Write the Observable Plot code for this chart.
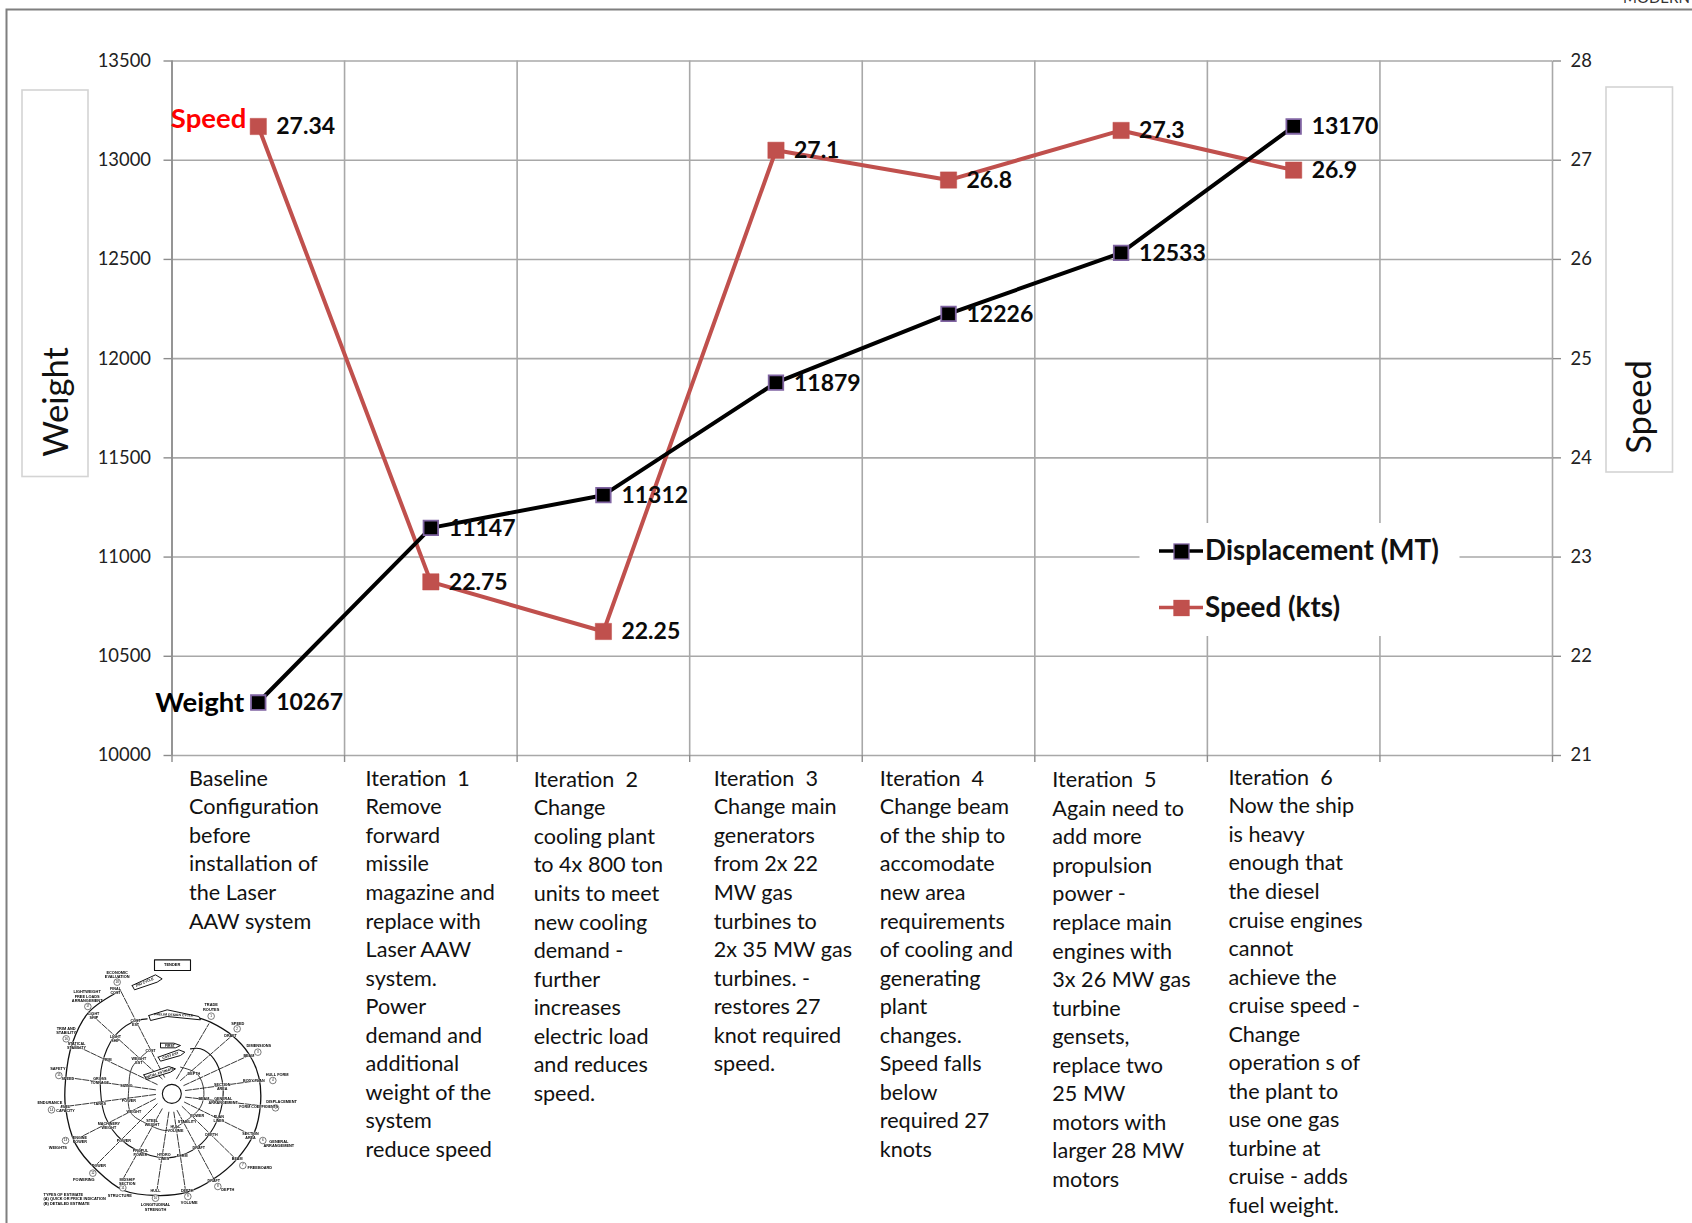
<!DOCTYPE html>
<html>
<head>
<meta charset="utf-8">
<script src="https://cdn.jsdelivr.net/npm/d3@7"></script>
<script src="https://cdn.jsdelivr.net/npm/@observablehq/plot@0.6"></script>
<style>
  html, body { margin: 0; padding: 0; background: #fff; overflow: hidden; }
  #page { position: relative; width: 1692px; height: 1223px; overflow: hidden; }
  #page svg { display: block; }
  #spiral { position: absolute; left: 0; top: 930px; filter: blur(0.55px); }
</style>
</head>
<body>
<div id="page"><div id="chart"></div><div id="spiral"></div></div>
<script>
// Design iterations: ship displacement and speed after each change
const displacement = [10267, 11147, 11312, 11879, 12226, 12533, 13170];
const speed = [27.34, 22.75, 22.25, 27.1, 26.8, 27.3, 26.9];
const weightTicks = [10000, 10500, 11000, 11500, 12000, 12500, 13000, 13500];
const bandEdges = [0, 1, 2, 3, 4, 5, 6, 7, 8];
const descriptions = [
  ["Baseline", "Configuration", "before", "installation of", "the Laser", "AAW system"],
  ["Iteration  1", "Remove", "forward", "missile", "magazine and", "replace with", "Laser AAW", "system.", "Power", "demand and", "additional", "weight of the", "system", "reduce speed"],
  ["Iteration  2", "Change", "cooling plant", "to 4x 800 ton", "units to meet", "new cooling", "demand -", "further", "increases", "electric load", "and reduces", "speed."],
  ["Iteration  3", "Change main", "generators", "from 2x 22", "MW gas", "turbines to", "2x 35 MW gas", "turbines. -", "restores 27", "knot required", "speed."],
  ["Iteration  4", "Change beam", "of the ship to", "accomodate", "new area", "requirements", "of cooling and", "generating", "plant", "changes.", "Speed falls", "below", "required 27", "knots"],
  ["Iteration  5", "Again need to", "add more", "propulsion", "power -", "replace main", "engines with", "3x 26 MW gas", "turbine", "gensets,", "replace two", "25 MW", "motors with", "larger 28 MW", "motors"],
  ["Iteration  6", "Now the ship", "is heavy", "enough that", "the diesel", "cruise engines", "cannot", "achieve the", "cruise speed -", "Change", "operation s of", "the plant to", "use one gas", "turbine at", "cruise - adds", "fuel weight."]
];

// Text placement of the description blocks, relative to each band edge and the frame bottom
const blockDx = [17, 21, 16.5, 24, 17.5, 17.5, 21];
const blockDy = [10, 10, 11, 10, 10, 11.5, 9];

const FONT = "Lato, 'Noto Sans', sans-serif";
const GRID = "#a8a8a8";
const RED = "#c0504d";
const PURPLE = "#8064a2";

// Speed shares the frame with displacement: 21–28 kts spans 10000–13500 MT
const speedToWeight = (s) => 10000 + (s - 21) * 500;
const weightToSpeed = (w) => (w - 10000) / 500 + 21;
const band = (i) => i + 0.5;

const weightRows = displacement.map((value, i) => ({x: band(i), value}));
const speedRows = speed.map((value, i) => ({x: band(i), value, y: speedToWeight(value)}));

// The design-spiral illustration in the lower left corner, drawn as its own small plot
const spiralOuter = [[360,180],[265,245],[215,340],[195,450],[195,530],[225,640],[290,720],[370,780],[470,795],[560,785],[640,745],[710,685],[760,610],[780,520],[775,440],[745,370],[695,315],[630,275],[595,262]];
const spiralMiddle = [[440,265],[395,275],[340,320],[305,400],[300,480],[315,560],[365,630],[450,675],[520,680],[590,650],[640,590],[665,520],[665,450],[640,385],[600,355],[570,355]];
const spiralInner = [[445,360],[395,410],[385,470],[390,545],[440,580],[500,600],[550,575],[600,530],[610,480],[590,430],[540,410]];
const spokes = [
  [[555,480],[775,450]], [[550,465],[745,375]], [[540,450],[695,315]], [[528,445],[625,280]],
  [[555,500],[820,530]], [[552,515],[745,610]], [[545,528],[700,680]], [[530,540],[640,745]],
  [[520,545],[555,780]], [[505,545],[470,775]], [[485,535],[365,750]], [[470,520],[285,705]],
  [[465,505],[230,625]], [[465,492],[180,530]], [[465,478],[195,440]], [[470,462],[215,340]],
  [[485,445],[265,245]], [[492,440],[360,180]]
];
const ringLabels = [
  {n:"1",x:632,y:257,t:"TRADE\nROUTES",tx:632,ty:230},{n:"2",x:710,y:295,t:"SPEED",tx:712,ty:278},
  {n:"3",x:772,y:365,t:"DIMENSIONS",tx:775,ty:345},{n:"4",x:817,y:450,t:"HULL FORM",tx:830,ty:432},
  {n:"5",x:825,y:532,t:"DISPLACEMENT",tx:843,ty:513},{n:"6",x:787,y:630,t:"GENERAL\nARRANGEMENT",tx:835,ty:640},
  {n:"7",x:727,y:705,t:"FREEBOARD",tx:778,ty:710},{n:"8",x:652,y:768,t:"DEPTH",tx:682,ty:778},
  {n:"9",x:562,y:798,t:"VOLUME",tx:566,ty:817},{n:"10",x:465,y:803,t:"LONGITUDINAL\nSTRENGTH",tx:465,ty:830},
  {n:"11",x:367,y:772,t:"STRUCTURE",tx:358,ty:795},{n:"12",x:277,y:728,t:"POWERING",tx:250,ty:747},
  {n:"13",x:195,y:630,t:"WEIGHTS",tx:172,ty:652},{n:"14",x:153,y:538,t:"ENDURANCE",tx:148,ty:515},
  {n:"15",x:175,y:435,t:"SAFETY",tx:172,ty:415},{n:"16",x:197,y:325,t:"TRIM AND\nSTABILITY",tx:197,ty:300},
  {n:"17",x:262,y:228,t:"LIGHTWEIGHT\nFREE LOADS\nARRANGEMENT",tx:260,ty:197},{n:"18",x:350,y:155,t:"ECONOMIC\nEVALUATION",tx:350,ty:133}
];
const nodeLabels = [
  [345,182,"FINAL\nCOST"],[280,255,"LIGHT\nSHIP"],[228,345,"STATICAL\nSTABILITY"],[202,445,"SPEED"],[195,535,"FUEL\nCAPACITY"],
  [238,628,"ENGINE\nPOWER"],[295,705,"POWER"],[380,755,"MIDSHIP\nSECTION"],[465,780,"HULL"],[560,780,"DEPTH"],
  [640,750,"DRAFT"],[710,685,"BEAM"],[750,615,"SECTION\nAREA"],[775,530,"FORM COEFFICIENTS"],[760,452,"BODY PLAN"],[745,375,"BEAM"],[690,315,"DRAFT"],
  [405,278,"COST\nEST"],[345,325,"LIGHT\nSHIP"],[320,388,"TRIM"],[298,450,"GROSS\nTONNAGE"],[298,520,"TANKS"],[325,585,"MACHINERY\nWEIGHT"],[370,630,"POWER"],[420,668,"PROPUL\nPOWER"],
  [490,680,"HYDRO\nLINES"],[545,675,"FORM"],[595,652,"DRAFT"],[633,612,"DEPTH"],[655,565,"PLAN\nLINES"],[668,510,"GENERAL\nARRANGEMENT"],[665,468,"SECTION\nAREA"],
  [450,360,"COST"],[415,390,"WEIGHT\nEST"],[378,465,"SIZING"],[385,510,"POWER"],[400,545,"WEIGHT"],[455,578,"STEEL\nWEIGHT"],[525,595,"HULL\nVOLUME"],[560,575,"STABILITY"],[590,555,"POWER"],[610,505,"BEAM"],[580,430,"DEPTH"]
];
const banners = [
  {poly:[[395,165],[465,133],[485,145],[470,155],[402,178]],label:"2ND CYCLE",x:432,y:155,r:-22},
  {poly:[[445,255],[500,238],[595,258],[600,268],[500,258],[450,270]],label:"PRELIM DESIGN CYCLE",x:520,y:253,r:2},
  {poly:[[480,338],[520,338],[540,345],[525,352],[480,352]],label:"FIRST",x:508,y:345,r:0},
  {poly:[[473,380],[535,358],[553,365],[540,375],[480,392]],label:"COST EST",x:510,y:375,r:-18},
  {poly:[[430,433],[505,408],[525,415],[510,425],[438,447]],label:"INITIAL ESTIMATE",x:478,y:427,r:-18}
];

const spiralPlot = Plot.plot({
  width: 340, height: 293, margin: 0,
  x: {domain: [0, 1020], axis: null},
  y: {domain: [879, 0], axis: null},
  style: {background: "none", fontFamily: "'Liberation Sans', sans-serif"},
  marks: [
    Plot.line(spiralOuter, {x: "0", y: "1", curve: "catmull-rom", stroke: "#111", strokeWidth: 1.3}),
    Plot.line(spiralMiddle, {x: "0", y: "1", curve: "catmull-rom", stroke: "#111", strokeWidth: 1.1}),
    Plot.line(spiralInner, {x: "0", y: "1", curve: "catmull-rom", stroke: "#222", strokeWidth: 0.9}),
    spokes.map((s) => Plot.line(s, {x: "0", y: "1", stroke: "#222", strokeWidth: 0.9, strokeDasharray: "6 1.5"})),
    Plot.dot([[514,490]], {x: "0", y: "1", r: 9.5, stroke: "#111", strokeWidth: 1.1, fill: "white"}),
    banners.map((b) => Plot.line([...b.poly, b.poly[0]], {x: "0", y: "1", stroke: "#111", strokeWidth: 1, fill: "white"})),
    banners.map((b) => Plot.text([b], {x: "x", y: "y", text: "label", rotate: b.r, fontSize: 3.4, fontWeight: 700, fill: "#000"})),
    Plot.line([[462,88],[570,88],[570,120],[462,120],[462,88]], {x: "0", y: "1", stroke: "#111", strokeWidth: 1.1}),
    Plot.text([[515,103]], {x: "0", y: "1", text: () => "TENDER", fontSize: 4, fontWeight: 700, fill: "#000"}),
    Plot.dot(ringLabels, {x: "x", y: "y", r: 3.3, stroke: "#444", strokeWidth: 0.7, fill: "white"}),
    Plot.text(ringLabels, {x: "x", y: "y", text: "n", fontSize: 3, fill: "#000"}),
    Plot.text(ringLabels, {x: "tx", y: "ty", text: "t", fontSize: 3.9, fontWeight: 700, lineHeight: 1.1, fill: "#000"}),
    Plot.text(nodeLabels, {x: "0", y: "1", text: "2", fontSize: 3.7, fontWeight: 800, lineHeight: 1.05, fill: "#000", stroke: "white", strokeWidth: 0.5}),
    Plot.text(["TYPES OF ESTIMATE\n(A) QUICK OR PRICE INDICATION\n(B) DETAILED ESTIMATE"], {frameAnchor: "top-left", dx: 43, dy: 262, text: (d) => d, textAnchor: "start", fontSize: 3.9, fontWeight: 700, lineHeight: 1.15, fill: "#000"})
  ]
});

// Page frame, the two axis-title panels and the clipped page header
function backdrop() {
  const g = d3.create("svg:g").attr("font-family", FONT);
  g.append("path").attr("d", "M6.5 1223V9.5H1692").attr("fill", "none").attr("stroke", "#7f7f7f").attr("stroke-width", 2);
  g.append("text").attr("x", 1623).attr("y", 3).attr("text-anchor", "start").attr("font-size", 15).attr("fill", "#333").text("MODERN");
  const panel = (x, y, w, h, label, cx, cy) => {
    g.append("rect").attr("x", x).attr("y", y).attr("width", w).attr("height", h)
      .attr("fill", "white").attr("stroke", "#d4d4d4").attr("stroke-width", 1.6);
    g.append("text").attr("transform", `translate(${cx},${cy}) rotate(-90)`).attr("text-anchor", "middle")
      .attr("dominant-baseline", "middle").attr("font-size", 34.5).attr("fill", "#111").text(label);
  };
  panel(22, 90, 66, 386.5, "Weight", 59, 402);
  panel(1606, 87, 66.5, 385, "Speed", 1642, 407);
  return g.node();
}

// Series key on a white patch that interrupts the grid
function seriesKey() {
  const g = d3.create("svg:g").attr("font-family", FONT);
  g.append("rect").attr("x", 1139.5).attr("y", 523).attr("width", 320).attr("height", 113).attr("fill", "white");
  const entry = (y, color, border, label) => {
    g.append("line").attr("x1", 1159).attr("x2", 1203).attr("y1", y).attr("y2", y).attr("stroke", color).attr("stroke-width", 3.4);
    g.append("rect").attr("x", 1174).attr("y", y - 7).attr("width", 15).attr("height", 15).attr("fill", color).attr("stroke", border).attr("stroke-width", 1.3);
    g.append("text").attr("x", 1205).attr("y", y + 2).attr("text-anchor", "start").attr("dominant-baseline", "middle").attr("font-size", 27.8).attr("font-weight", 700).attr("fill", "#111").text(label);
  };
  entry(551, "#000", PURPLE, "Displacement (MT)");
  entry(607.5, RED, RED, "Speed (kts)");
  return g.node();
}

const labelStyle = {fontSize: 23, fontWeight: 700, fill: "#0a0a0a", textAnchor: "start", dx: 18, dy: 0.5, fontFamily: FONT};

const chart = Plot.plot({
  width: 1692,
  height: 1223,
  marginTop: 60.5,
  marginLeft: 171.5,
  marginRight: 140,
  marginBottom: 468,
  style: {fontFamily: FONT, background: "white", overflow: "hidden"},
  x: {domain: [0, 8], axis: null},
  y: {domain: [10000, 13500], axis: null},
  marks: [
    backdrop,
    Plot.ruleY(weightTicks, {stroke: GRID, strokeWidth: 1.6}),
    Plot.ruleX(bandEdges, {y1: 10000, y2: 13500, stroke: GRID, strokeWidth: 1.6}),
    Plot.ruleX([0], {y1: 10000, y2: 13500, stroke: "#8c8c8c", strokeWidth: 1.6}),
    Plot.axisY({ticks: weightTicks, tickSize: 8, tickPadding: 13, fontSize: 18.4, tickFormat: (d) => String(d), stroke: "#8c8c8c", strokeWidth: 1.4, color: "#222", label: null}),
    Plot.axisY({anchor: "right", ticks: weightTicks, tickSize: 8, tickPadding: 10, fontSize: 18.4, tickFormat: (d) => String(weightToSpeed(d)), stroke: "#8c8c8c", strokeWidth: 1.4, color: "#222", label: null}),
    Plot.axisX({ticks: bandEdges, tickSize: 7, tickFormat: () => "", stroke: "#8c8c8c", strokeWidth: 1.4, label: null}),
    seriesKey,
    Plot.line(speedRows, {x: "x", y: "y", stroke: RED, strokeWidth: 4}),
    Plot.dot(speedRows, {x: "x", y: "y", symbol: "square", r: 9.2, fill: RED, stroke: RED, strokeWidth: 0.5}),
    Plot.line(weightRows, {x: "x", y: "value", stroke: "#000", strokeWidth: 4}),
    Plot.dot(weightRows, {x: "x", y: "value", symbol: "square", r: 8.2, fill: "#000", stroke: PURPLE, strokeWidth: 1.8}),
    Plot.text(weightRows, {x: "x", y: "value", text: (d) => String(d.value), ...labelStyle}),
    Plot.text(speedRows, {x: "x", y: "y", text: (d) => String(d.value), ...labelStyle}),
    Plot.text(speedRows.slice(0, 1), {x: "x", y: "y", text: () => "Speed", fontSize: 27.5, fontWeight: 700, fill: "#ff0000", textAnchor: "end", dx: -12, dy: -7, fontFamily: FONT}),
    Plot.text(weightRows.slice(0, 1), {x: "x", y: "value", text: () => "Weight", fontSize: 27.5, fontWeight: 700, fill: "#000", textAnchor: "end", dx: -14, dy: 1, fontFamily: FONT}),
    descriptions.map((lines, i) => Plot.text([lines.join("\n")], {
      x: () => i, frameAnchor: "bottom", text: (d) => d, textAnchor: "start", lineAnchor: "top",
      dx: blockDx[i], dy: blockDy[i], fontSize: 21.6, lineHeight: 28.55 / 21.6, fill: "#111", fontFamily: FONT
    }))
  ]
});
document.getElementById("chart").append(chart);
document.getElementById("spiral").append(spiralPlot);
</script>
</body>
</html>
